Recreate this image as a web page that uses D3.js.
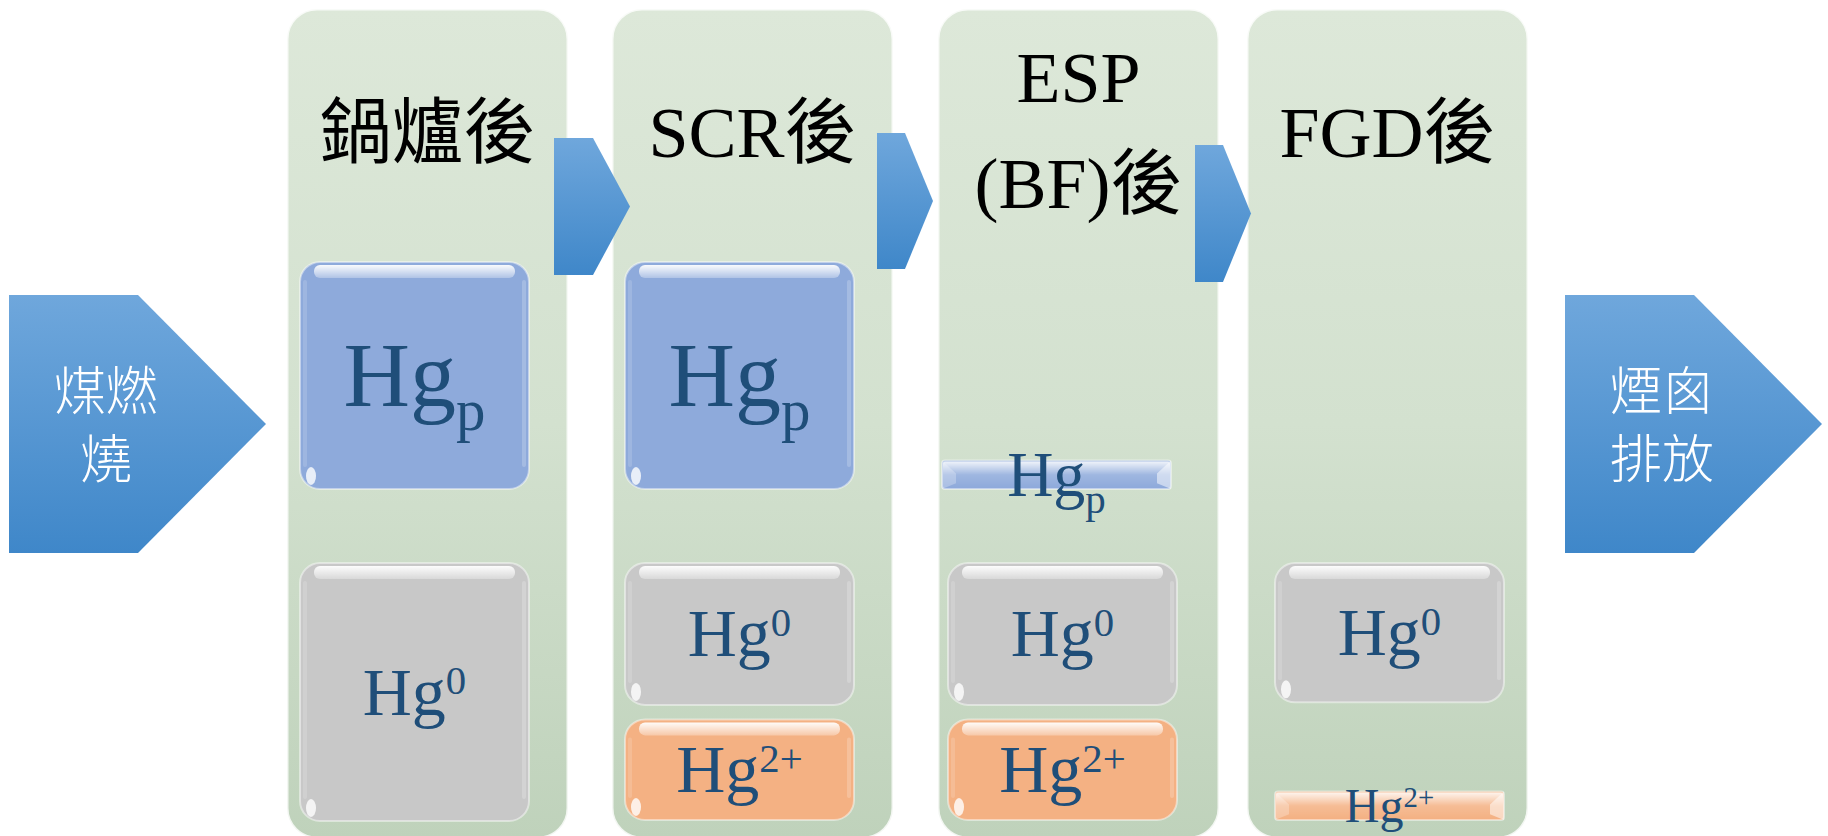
<!DOCTYPE html>
<html>
<head>
<meta charset="utf-8">
<script src="https://cdn.jsdelivr.net/npm/d3@7"></script>
<style>
  html, body { margin: 0; padding: 0; background: #ffffff; }
  svg { display: block; }
</style>
</head>
<body>
<svg id="chart" width="1828" height="836"></svg>
<script>
// ---------------- data ----------------
const stages = ["鍋爐後", "SCR後", "ESP(BF)後", "FGD後"];
const stageTitleLines = [["鍋爐後"], ["SCR後"], ["ESP", "(BF)後"], ["FGD後"]];
const inputLabelLines = ["煤燃", "燒"];
const outputLabelLines = ["煙囪", "排放"];
// relative amount of each mercury species after each stage (Hg0 after boiler = 100)
const hgpValues = [88, 88, 11, 0];
const hg0Values = [100, 55, 55, 54];
const hg2Values = [0, 39, 39, 11];

// ---------------- layout ----------------
const svg = d3.select("#chart");
const defs = svg.append("defs");

const panelLeft = [287, 612, 938, 1247];
const panelW = 281, panelTop = 9, panelBottom = 838;
const boxInset = [13, 13, 10, 28];
const boxW = 229;
const xPanel = d3.scaleOrdinal().domain(stages).range(panelLeft);
const hScale = d3.scaleLinear().domain([0, 100]).range([0, 258]);

const hgpBottom = 489, hg0Top = 563, hg2Bottom = 820;
const textColor = "#1f4e79";
const latin = "'Liberation Serif', 'Times New Roman', serif";
const cjkSerif = "'Liberation Serif', 'Noto Sans CJK TC', serif";

// gradients
function vGrad(id, stops) {
  const g = defs.append("linearGradient").attr("id", id)
    .attr("x1", 0).attr("y1", 0).attr("x2", 0).attr("y2", 1);
  stops.forEach(s => g.append("stop").attr("offset", s[0])
    .attr("stop-color", s[1]).attr("stop-opacity", s[2] === undefined ? 1 : s[2]));
}
vGrad("panelGrad", [[0, "#dde8d9"], [0.5, "#d3e1cf"], [1, "#bfd2bb"]]);
vGrad("arrowGrad", [[0, "#6fa7dc"], [1, "#3f87c9"]]);
vGrad("gloss", [[0, "#ffffff", 0.95], [1, "#ffffff", 0.3]]);
vGrad("glossThin", [[0, "#ffffff", 0.85], [0.5, "#ffffff", 0.15], [1, "#ffffff", 0]]);

// ---------------- input / output arrows ----------------
function bigArrow(x0, label) {
  const y0 = 295, y1 = 553, body = 129, tip = 257;
  const ym = (y0 + y1) / 2;
  const pts = [[x0, y0], [x0 + body, y0], [x0 + tip, ym], [x0 + body, y1], [x0, y1]];
  svg.append("path").attr("d", d3.line()(pts) + "Z").attr("fill", "url(#arrowGrad)");
  svg.append("text")
    .attr("x", x0 + 97).attr("y", 410)
    .attr("text-anchor", "middle")
    .attr("fill", "#ffffff")
    .attr("font-family", "'Noto Sans CJK TC', sans-serif")
    .attr("font-weight", 300)
    .attr("font-size", 52)
    .selectAll("tspan").data(label).join("tspan")
    .attr("x", x0 + 97).attr("dy", (d, i) => i === 0 ? 0 : 68)
    .text(d => d);
}
bigArrow(9, inputLabelLines);
bigArrow(1565, outputLabelLines);

// ---------------- panels ----------------
const panels = svg.append("g");
panels.selectAll("rect").data(stages).join("rect")
  .attr("x", d => xPanel(d)).attr("y", panelTop)
  .attr("width", panelW).attr("height", panelBottom - panelTop)
  .attr("rx", 30).attr("ry", 30)
  .attr("fill", "url(#panelGrad)")
  .attr("stroke", "#ffffff").attr("stroke-opacity", 0.8).attr("stroke-width", 3);

// titles
stages.forEach((s, i) => {
  const lines = stageTitleLines[i];
  const cx = xPanel(s) + panelW / 2;
  const baseY = lines.length === 1 ? 157 : 102;
  const t = svg.append("text")
    .attr("text-anchor", "middle")
    .attr("font-family", cjkSerif)
    .attr("font-size", 72)
    .attr("fill", "#000000");
  lines.forEach((ln, j) => {
    t.append("tspan").attr("x", cx).attr("y", baseY + j * 106).text(ln);
  });
});

// ---------------- chevrons between stages ----------------
const chevronX = [[554, 593, 630], [877, 905, 933], [1195, 1223, 1251]];
const chevronY = [[138, 275], [133, 269], [145, 282]];
chevronX.forEach((cx, i) => {
  const [a, b, c] = cx, [t, bt] = chevronY[i];
  const pts = [[a, t], [b, t], [c, (t + bt) / 2], [b, bt], [a, bt]];
  svg.append("path").attr("d", d3.line()(pts) + "Z").attr("fill", "url(#arrowGrad)");
});

// ---------------- species boxes ----------------
const boxes = [];
stages.forEach((s, i) => {
  const x = xPanel(s) + boxInset[i];
  if (hgpValues[i] > 0) {
    const h = hScale(hgpValues[i]);
    boxes.push({ sp: "p", x: h < 60 ? x - 6 : x, y: hgpBottom - h, h, fill: "#8eaadb", thin: h < 60 });
  }
  if (hg0Values[i] > 0) {
    const h = hScale(hg0Values[i]);
    boxes.push({ sp: "0", x, y: hg0Top, h, fill: "#c8c8c8", thin: h < 60 });
  }
  if (hg2Values[i] > 0) {
    const h = hScale(hg2Values[i]);
    boxes.push({ sp: "2+", x, y: hg2Bottom - h, h, fill: "#f4b183", thin: h < 60 });
  }
});

const bg = svg.append("g");
boxes.forEach(b => {
  const g = bg.append("g");
  const r = b.thin ? 3 : 20;
  g.append("rect").attr("x", b.x).attr("y", b.y).attr("width", boxW).attr("height", b.h)
    .attr("rx", r).attr("ry", r).attr("fill", b.fill)
    .attr("stroke", "#ffffff").attr("stroke-opacity", 0.45).attr("stroke-width", 2);
  if (b.thin) {
    g.append("rect").attr("x", b.x + 1).attr("y", b.y + 1).attr("width", boxW - 2).attr("height", b.h - 2)
      .attr("rx", 2).attr("fill", "url(#glossThin)");
    g.append("path").attr("d", d3.line()([[b.x, b.y], [b.x + 14, b.y + b.h * 0.45], [b.x + 14, b.y + b.h * 0.8], [b.x, b.y + b.h]]) + "Z")
      .attr("fill", "#ffffff").attr("fill-opacity", 0.25);
    g.append("path").attr("d", d3.line()([[b.x + boxW, b.y], [b.x + boxW - 14, b.y + b.h * 0.45], [b.x + boxW - 14, b.y + b.h * 0.8], [b.x + boxW, b.y + b.h]]) + "Z")
      .attr("fill", "#ffffff").attr("fill-opacity", 0.5);
  } else {
    g.append("rect").attr("x", b.x + 14).attr("y", b.y + 3).attr("width", boxW - 28).attr("height", 13)
      .attr("rx", 6).attr("fill", "url(#gloss)");
    g.append("rect").attr("x", b.x + 3).attr("y", b.y + 18).attr("width", 4).attr("height", b.h - 40)
      .attr("rx", 2).attr("fill", "#ffffff").attr("fill-opacity", 0.15);
    g.append("rect").attr("x", b.x + boxW - 7).attr("y", b.y + 18).attr("width", 4).attr("height", b.h - 40)
      .attr("rx", 2).attr("fill", "#ffffff").attr("fill-opacity", 0.2);
    g.append("ellipse").attr("cx", b.x + 11).attr("cy", b.y + b.h - 13).attr("rx", 5).attr("ry", 9)
      .attr("fill", "#ffffff").attr("fill-opacity", 0.8);
  }
});

// labels
function labelSize(b) {
  if (b.sp === "p") return b.thin ? 64 : 92;
  if (b.sp === "2+" && b.thin) return 48;
  return 68;
}
boxes.forEach(b => {
  const fs = labelSize(b);
  const cx = b.x + boxW / 2;
  const base = b.y + b.h / 2 + 0.331 * fs;
  const t = svg.append("text")
    .attr("x", cx).attr("y", base)
    .attr("text-anchor", "middle")
    .attr("font-family", latin)
    .attr("font-size", fs)
    .attr("fill", textColor);
  t.append("tspan").text("Hg");
  if (b.sp === "p") {
    t.append("tspan").attr("font-size", fs * 0.64).attr("dy", fs * 0.26).text("p");
  } else {
    t.append("tspan").attr("font-size", fs * 0.6).attr("dy", -fs * 0.3).text(b.sp);
  }
});
</script>
</body>
</html>
